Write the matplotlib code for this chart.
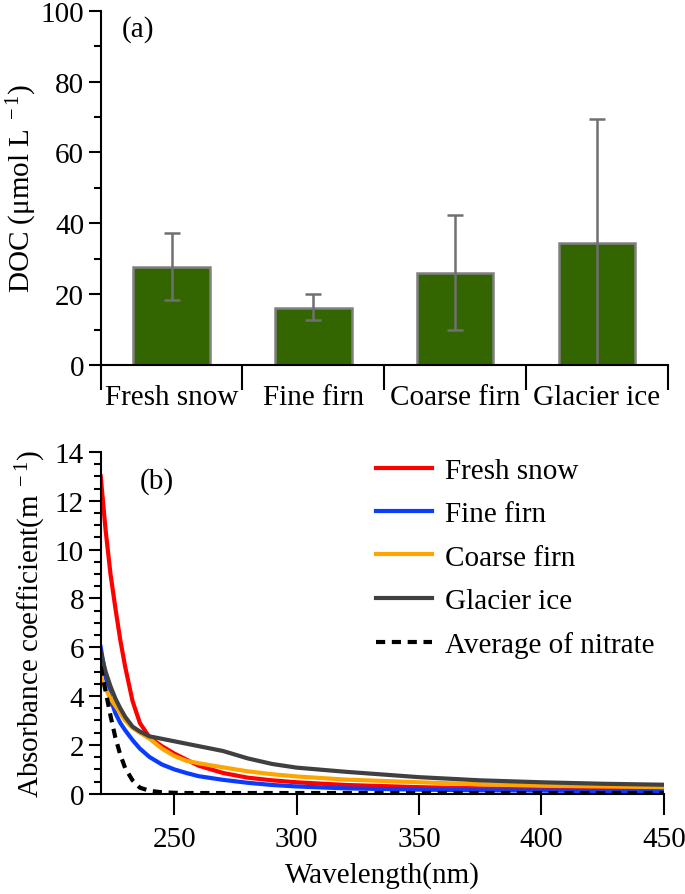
import numpy as np
import matplotlib.pyplot as plt
from matplotlib.ticker import MultipleLocator

plt.rcParams['font.family'] = ['Liberation Serif', 'DejaVu Serif']
plt.rcParams['mathtext.fontset'] = 'custom'
plt.rcParams['mathtext.rm'] = 'Liberation Serif'
plt.rcParams['mathtext.it'] = 'Liberation Serif'

# panel (a): DOC
cats = ['Fresh snow', 'Fine firn', 'Coarse firn', 'Glacier ice']
doc = [27.6, 16.2, 25.9, 34.5]
err_lo = [9.2, 3.4, 15.9, 34.5]
err_hi = [9.8, 3.8, 16.3, 35.0]

# panel (b): absorbance spectra
wl = [220, 222, 224, 226, 228, 230, 233, 236, 240, 245, 250, 255, 260, 270,
      280, 290, 300, 320, 350, 375, 400, 425, 450]
fresh = [13.0, 10.8, 9.0, 7.6, 6.3, 5.2, 3.8, 2.9, 2.3, 1.95, 1.65, 1.4, 1.15, 0.85,
         0.66, 0.55, 0.47, 0.36, 0.27, 0.22, 0.2, 0.19, 0.18]
fine = [6.0, 4.8, 3.9, 3.3, 2.9, 2.6, 2.2, 1.85, 1.5, 1.2, 1.0, 0.85, 0.72, 0.57,
        0.45, 0.36, 0.3, 0.22, 0.17, 0.14, 0.13, 0.11, 0.1]
coarse = [4.8, 4.3, 3.9, 3.6, 3.3, 3.0, 2.7, 2.5, 2.25, 1.85, 1.55, 1.35, 1.25, 1.08,
          0.92, 0.8, 0.71, 0.58, 0.47, 0.39, 0.33, 0.3, 0.27]
glacier = [5.8, 5.0, 4.4, 3.9, 3.5, 3.15, 2.75, 2.55, 2.35, 2.25, 2.15, 2.05, 1.95, 1.75,
           1.45, 1.22, 1.07, 0.9, 0.68, 0.55, 0.47, 0.41, 0.37]
nitrate = [5.2, 4.2, 3.2, 2.3, 1.6, 1.05, 0.55, 0.25, 0.12, 0.06, 0.04, 0.03, 0.03, 0.03,
           0.03, 0.03, 0.03, 0.03, 0.03, 0.03, 0.03, 0.03, 0.03]

FS = 21
fig = plt.figure(figsize=(6.85, 8.95), dpi=100)

# ---- (a)
ax1 = fig.add_axes([0.147, 0.591, 0.828, 0.396])
x = np.arange(len(cats))
ax1.bar(x, doc, width=0.54, color='#336600', edgecolor='#808080', linewidth=1.8,
        yerr=[err_lo, err_hi], error_kw=dict(ecolor='#707070', elinewidth=1.8, capsize=6, capthick=1.8))
ax1.set_xlim(-0.5, 3.5)
ax1.set_ylim(0, 100)
ax1.set_xticks([-0.5, 0.5, 1.5, 2.5, 3.5])
ax1.set_xticklabels([])
ax1.set_xticks(x, labels=cats, minor=True)
ax1.tick_params(axis='x', which='major', length=18, width=1.5, direction='out')
ax1.tick_params(axis='x', which='minor', length=0, pad=14, labelsize=FS)
ax1.yaxis.set_major_locator(MultipleLocator(20))
ax1.yaxis.set_minor_locator(MultipleLocator(10))
ax1.tick_params(axis='y', which='major', length=9, width=1.5, labelsize=FS, pad=3)
ax1.tick_params(axis='y', which='minor', length=5, width=1.5)
ax1.spines['top'].set_visible(False)
ax1.spines['right'].set_visible(False)
ax1.spines['left'].set_linewidth(1.5)
ax1.spines['bottom'].set_linewidth(1.5)
ax1.set_ylabel('DOC (μmol L$^{\\ -1}$)', fontsize=FS, labelpad=1)
ax1.text(0.038, 0.95, '(a)', transform=ax1.transAxes, fontsize=FS, va='center')

# ---- (b)
ax2 = fig.add_axes([0.147, 0.112, 0.822, 0.382])
ax2.plot(wl, fresh, color='#ff0000', lw=3, label='Fresh snow')
ax2.plot(wl, fine, color='#0a3cff', lw=3, label='Fine firn')
ax2.plot(wl, coarse, color='#ffa500', lw=3, label='Coarse firn')
ax2.plot(wl, glacier, color='#404040', lw=3, label='Glacier ice')
ax2.plot(wl, nitrate, color='black', lw=3, ls=(0, (2.2, 1.6)), label='Average of nitrate')
ax2.set_xlim(220, 450)
ax2.set_ylim(0, 14)
ax2.set_xticks([250, 300, 350, 400, 450])
ax2.yaxis.set_major_locator(MultipleLocator(2))
ax2.yaxis.set_minor_locator(MultipleLocator(0.5))
ax2.tick_params(axis='x', which='major', length=15, width=1.5, labelsize=FS, pad=8)
ax2.tick_params(axis='y', which='major', length=9, width=1.5, labelsize=FS, pad=3)
ax2.tick_params(axis='y', which='minor', length=5, width=1.5)
ax2.spines['top'].set_visible(False)
ax2.spines['right'].set_visible(False)
ax2.spines['left'].set_linewidth(1.5)
ax2.spines['bottom'].set_linewidth(1.5)
ax2.set_xlabel('Wavelength(nm)', fontsize=FS, labelpad=7)
ax2.set_ylabel('Absorbance coefficient(m$^{\\ -1}$)', fontsize=FS, labelpad=5)
ax2.text(0.07, 0.915, '(b)', transform=ax2.transAxes, fontsize=FS, va='center')
ax2.legend(loc='upper right', bbox_to_anchor=(1.03, 1.06), frameon=False, fontsize=FS,
           handlelength=1.9, handletextpad=0.45, labelspacing=0.58)

fig.savefig('out.png', dpi=100)
